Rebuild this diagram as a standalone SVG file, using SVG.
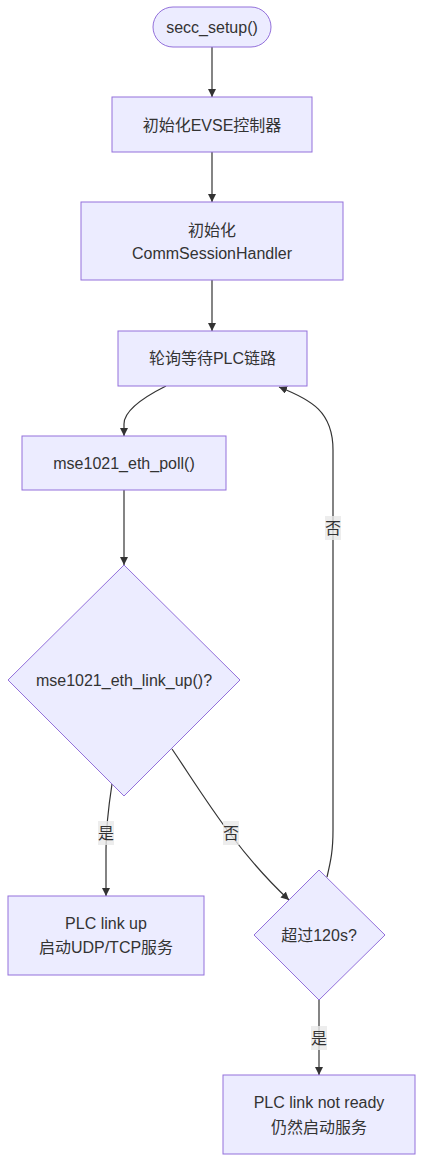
<svg xmlns="http://www.w3.org/2000/svg" width="423" height="1162" viewBox="0 0 423 1162">
<style>
.node rect,.node polygon{fill:#ECECFF;stroke:#9370DB;stroke-width:1}
text{font-family:"Liberation Sans","Noto Sans CJK SC",sans-serif;font-size:16px;fill:#333;text-anchor:middle;dominant-baseline:central}
.edge{fill:none;stroke:#333;stroke-width:1.2}
.lbl rect{fill:#E8E8E8;fill-opacity:0.8;stroke:none}
</style>
<defs>
<marker id="arr" viewBox="0 0 10 10" refX="10" refY="5" markerWidth="8" markerHeight="8" markerUnits="userSpaceOnUse" orient="auto">
<path d="M0,0 L10,5 L0,10 z" fill="#333"/>
</marker>
</defs>
<rect width="423" height="1162" fill="#fff"/>
<g id="connectors">
<path class="edge" d="M212,47 L212,97" marker-end="url(#arr)"/>
<path class="edge" d="M212,152 L212,202" marker-end="url(#arr)"/>
<path class="edge" d="M212,280 L212,331" marker-end="url(#arr)"/>
<path class="edge" d="M166,386 C138,400 124,412 124,424 L124,436" marker-end="url(#arr)"/>
<path class="edge" d="M124,490 L124,565" marker-end="url(#arr)"/>
<path class="edge" d="M112,784 C108,810 106,830 106,850 L106,896" marker-end="url(#arr)"/>
<path class="edge" d="M172,749 C200,790 235,850 289,900" marker-end="url(#arr)"/>
<path class="edge" d="M327,877 C331,860 333,850 333,830 L333,450 C333,412 312,400 279,387" marker-end="url(#arr)"/>
<path class="edge" d="M319,1000 L319,1075" marker-end="url(#arr)"/>
<g class="lbl"><rect x="325" y="516" width="16" height="24"/><text x="333" y="528">否</text></g>
<g class="lbl"><rect x="98" y="821" width="16" height="24"/><text x="106" y="833">是</text></g>
<g class="lbl"><rect x="223" y="821" width="16" height="24"/><text x="231" y="833">否</text></g>
<g class="lbl"><rect x="311" y="1026" width="16" height="24"/><text x="319" y="1038">是</text></g>
</g>
<g id="start" class="node"><rect x="153" y="7" width="118" height="40" rx="20" ry="20"/><text x="212" y="27">secc_setup()</text></g>
<g id="init_evse" class="node"><rect x="112" y="97" width="200" height="55"/><text x="212" y="125">初始化EVSE控制器</text></g>
<g id="init_comm" class="node"><rect x="81" y="202" width="262" height="78"/><text x="212" y="230">初始化</text><text x="212" y="253">CommSessionHandler</text></g>
<g id="poll_wait" class="node"><rect x="118" y="331" width="189" height="55"/><text x="212.5" y="358">轮询等待PLC链路</text></g>
<g id="eth_poll" class="node"><rect x="22" y="436" width="204" height="54"/><text x="124" y="463">mse1021_eth_poll()</text></g>
<g id="link_up_q" class="node"><polygon points="124,565 240,680 124,796 8,680"/><text x="124" y="680">mse1021_eth_link_up()?</text></g>
<g id="link_up" class="node"><rect x="8" y="896" width="196" height="79"/><text x="106" y="923">PLC link up</text><text x="106" y="947">启动UDP/TCP服务</text></g>
<g id="timeout_q" class="node"><polygon points="319,870 385,935 319,1000 254,935"/><text x="319" y="935">超过120s?</text></g>
<g id="not_ready" class="node"><rect x="223" y="1075" width="192" height="79"/><text x="319" y="1102">PLC link not ready</text><text x="319" y="1127">仍然启动服务</text></g>
</svg>
